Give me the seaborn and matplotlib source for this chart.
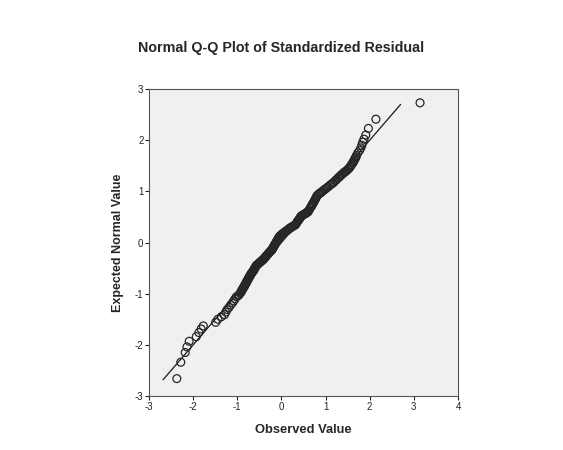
import numpy as np
import pandas as pd
import matplotlib
matplotlib.use("Agg")
import matplotlib.pyplot as plt
import seaborn as sns

# Punkty (wartość obserwowana, oczekiwana wartość normalna)
observed = [
    -2.37, -2.28, -2.18, -2.14, -2.09, -1.93, -1.87, -1.82, -1.77,
    -1.49, -1.44, -1.36, -1.29, -1.26, -1.23, -1.19, -1.15, -1.11, -1.08,
    -1.05, -1.02, -0.98, -0.96, -0.93,
    -0.92, -0.91, -0.90, -0.89, -0.88, -0.87, -0.86, -0.85, -0.84, -0.83,
    -0.82, -0.81, -0.80, -0.79, -0.78, -0.77, -0.76, -0.75, -0.74, -0.73,
    -0.72, -0.71, -0.70, -0.69, -0.68, -0.67,
    -0.65, -0.64, -0.63, -0.62, -0.61, -0.60, -0.59, -0.58, -0.57, -0.56,
    -0.54, -0.52, -0.50, -0.48, -0.46, -0.44, -0.42, -0.41,
    -0.39, -0.38, -0.36, -0.35, -0.33, -0.32, -0.30, -0.29, -0.27, -0.26,
    -0.24, -0.22,
    -0.21, -0.20, -0.19, -0.18, -0.17, -0.16, -0.15, -0.14, -0.13, -0.12,
    -0.11, -0.10, -0.09, -0.08, -0.07, -0.06,
    -0.04, -0.02, 0.00, 0.02, 0.04, 0.06, 0.08, 0.10,
    0.12, 0.15, 0.17, 0.20, 0.22, 0.25, 0.28, 0.31,
    0.33, 0.35, 0.36, 0.38, 0.40, 0.41, 0.43, 0.44, 0.46, 0.47,
    0.49, 0.51, 0.53, 0.55, 0.57, 0.58, 0.60, 0.61, 0.63, 0.65, 0.67,
    0.69, 0.70, 0.72, 0.74, 0.75, 0.77, 0.78, 0.80, 0.81,
    0.84, 0.86, 0.89, 0.91, 0.94, 0.97, 1.00, 1.03, 1.06, 1.10, 1.13,
    1.16, 1.19, 1.22, 1.25, 1.28, 1.31, 1.33, 1.36, 1.38, 1.41, 1.43,
    1.46, 1.48, 1.51, 1.53,
    1.55, 1.57, 1.59, 1.61, 1.63, 1.64, 1.66, 1.67, 1.69, 1.70, 1.73,
    1.77, 1.80, 1.82, 1.84, 1.87, 1.91, 1.97, 2.14, 3.14,
]
expected = [
    -2.66, -2.34, -2.15, -2.04, -1.93, -1.84, -1.76, -1.69, -1.63,
    -1.56, -1.50, -1.45, -1.41, -1.36, -1.31, -1.27, -1.22, -1.18, -1.14,
    -1.10, -1.06, -1.04, -1.02, -0.99,
    -0.97, -0.96, -0.94, -0.93, -0.91, -0.90, -0.88, -0.87, -0.85, -0.84,
    -0.82, -0.80, -0.79, -0.77, -0.76, -0.74, -0.72, -0.71, -0.69, -0.68,
    -0.66, -0.65, -0.63, -0.62, -0.60, -0.59,
    -0.57, -0.56, -0.54, -0.53, -0.51, -0.50, -0.48, -0.47, -0.45, -0.44,
    -0.43, -0.41, -0.40, -0.38, -0.37, -0.35, -0.34, -0.33,
    -0.31, -0.30, -0.28, -0.27, -0.25, -0.24, -0.22, -0.21, -0.19, -0.18,
    -0.16, -0.15,
    -0.13, -0.12, -0.10, -0.09, -0.07, -0.06, -0.04, -0.03, -0.01, 0.00,
    0.02, 0.03, 0.05, 0.06, 0.08, 0.10,
    0.12, 0.14, 0.15, 0.17, 0.18, 0.19, 0.21, 0.22,
    0.23, 0.25, 0.27, 0.28, 0.30, 0.31, 0.33, 0.34,
    0.36, 0.39, 0.41, 0.43, 0.45, 0.47, 0.49, 0.51, 0.52, 0.53,
    0.54, 0.55, 0.56, 0.57, 0.58, 0.59, 0.60, 0.61, 0.64, 0.67, 0.70,
    0.72, 0.75, 0.77, 0.80, 0.82, 0.85, 0.87, 0.90, 0.92,
    0.94, 0.96, 0.97, 0.99, 1.01, 1.03, 1.05, 1.07, 1.09, 1.12, 1.14,
    1.16, 1.18, 1.21, 1.23, 1.26, 1.28, 1.30, 1.32, 1.34, 1.36, 1.38,
    1.39, 1.41, 1.43, 1.45,
    1.47, 1.50, 1.52, 1.55, 1.57, 1.60, 1.62, 1.65, 1.67, 1.70, 1.75,
    1.80, 1.85, 1.90, 1.96, 2.02, 2.10, 2.23, 2.41, 2.73,
]

# Linia odniesienia
line_x = [-2.68, 2.70]
line_y = [-2.68, 2.70]

x_ticks = [-3, -2, -1, 0, 1, 2, 3, 4]
y_ticks = [-3, -2, -1, 0, 1, 2, 3]

data = pd.DataFrame({'observed': observed, 'expected': expected})
ref = pd.DataFrame({'x': line_x, 'y': line_y})

sns.set_style("white")
plt.rcParams['font.family'] = ['Liberation Sans', 'DejaVu Sans']
plt.rcParams['axes.unicode_minus'] = False

fig = plt.figure(figsize=(5.63, 4.5), dpi=100)
ax = fig.add_axes([0.2647, 0.12, 0.5488, 0.6822])
ax.set_facecolor('#f0f0f0')

sns.lineplot(x='x', y='y', data=ref, ax=ax, color='#1a1a1a', linewidth=0.9)
sns.scatterplot(x='observed', y='expected', data=data, ax=ax, s=32,
                marker='o', facecolor='none', edgecolor='#262626',
                linewidth=0.9, zorder=3)

ax.set_xlim(-3, 4)
ax.set_ylim(-3, 3)
ax.set_xticks(x_ticks)
ax.set_yticks(y_ticks)
ax.set_xticklabels([str(t) for t in x_ticks])
ax.set_yticklabels([str(t) for t in y_ticks])
ax.tick_params(axis='both', which='major', direction='out', length=3,
               width=0.8, labelsize=7, pad=1, colors='#222222',
               bottom=True, left=True)
for s in ax.spines.values():
    s.set_color('#555555')
    s.set_linewidth(0.8)

ax.set_xlabel('Observed Value', fontsize=9.3, fontweight='bold', labelpad=9)
ax.set_ylabel('Expected Normal Value', fontsize=9, fontweight='bold', labelpad=8)

fig.text(0.5, 1 - 48 / 450, 'Normal Q-Q Plot of Standardized Residual',
         ha='center', va='center', fontsize=10.3, fontweight='bold')

plt.savefig('out.png', dpi=100)
